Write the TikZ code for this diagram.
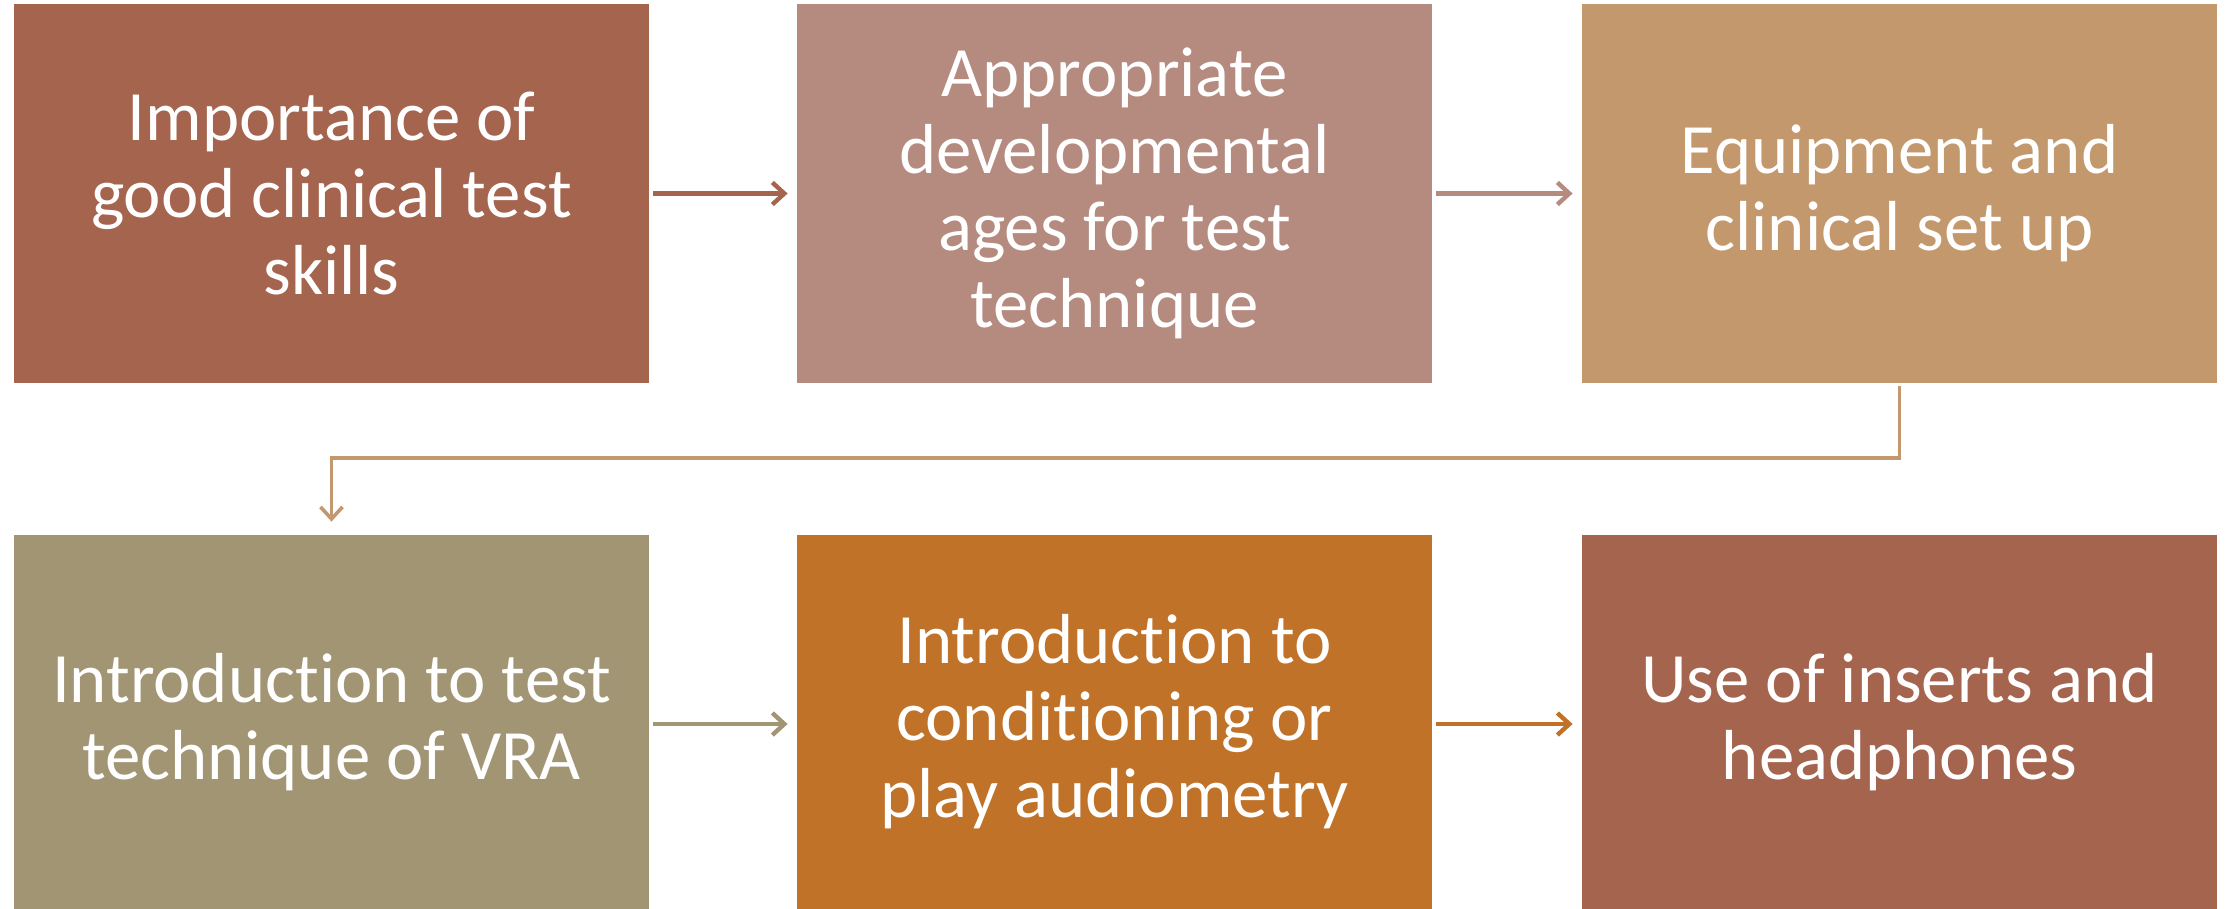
\documentclass[tikz,border=0pt]{standalone}
\usepackage{fontspec}
\setmainfont{Carlito}[RawFeature={-liga}]
\usetikzlibrary{arrows.meta}
\definecolor{cA}{RGB}{165,100,78}
\definecolor{cB}{RGB}{181,139,128}
\definecolor{cC}{RGB}{195,152,109}
\definecolor{cD}{RGB}{162,149,116}
\definecolor{cE}{RGB}{192,114,41}
\tikzset{
  box/.style={rectangle, inner sep=0pt, minimum width=317.5pt, text=white, align=center,
    font=\fontsize{35.4}{38.5}\selectfont},
  toprow/.style={box, minimum height=189.5pt},
  botrow/.style={box, minimum height=187pt},
  link/.style={line width=2.2pt, -{Straight Barb[length=6pt,width=11pt,line width=2.2pt]}, shorten <=2pt, shorten >=4.5pt},
}
\begin{document}
\begin{tikzpicture}[x=0.5pt,y=-0.5pt]
\useasboundingbox (0,0) rectangle (2225,909);
\node[toprow, fill=cA] (b1) at (331.5,193.5) {Importance of\\good clinical test\\skills};
\node[toprow, fill=cB] (b2) at (1114.5,193.5) {Appropriate\\developmental\\ages for test\\technique};
\node[toprow, fill=cC] (b3) at (1899.5,193.5) {Equipment and\\clinical set up};
\node[botrow, fill=cD] (b4) at (331.5,722) {Introduction to test\\technique of VRA};
\node[botrow, fill=cE] (b5) at (1114.5,722) {Introduction to\\conditioning or\\play audiometry};
\node[botrow, fill=cA] (b6) at (1899.5,722) {Use of inserts and\\headphones};
\draw[link, cA] (b1) -- (b2);
\draw[link, cB] (b2) -- (b3);
\draw[link, cD] (b4.east |- 0,724) -- (b5.west |- 0,724);
\draw[link, cE] (b5.east |- 0,724) -- (b6.west |- 0,724);
\coordinate (e1) at (1899.5,458);
\coordinate (e2) at (331.5,458);
\draw[cC, line width=1.8pt, -{Straight Barb[length=6pt,width=11pt,line width=1.8pt]}, shorten <=1.5pt, shorten >=6.5pt] (b3.south) -- (e1) -- (e2) -- (b4.north);
\end{tikzpicture}
\end{document}
